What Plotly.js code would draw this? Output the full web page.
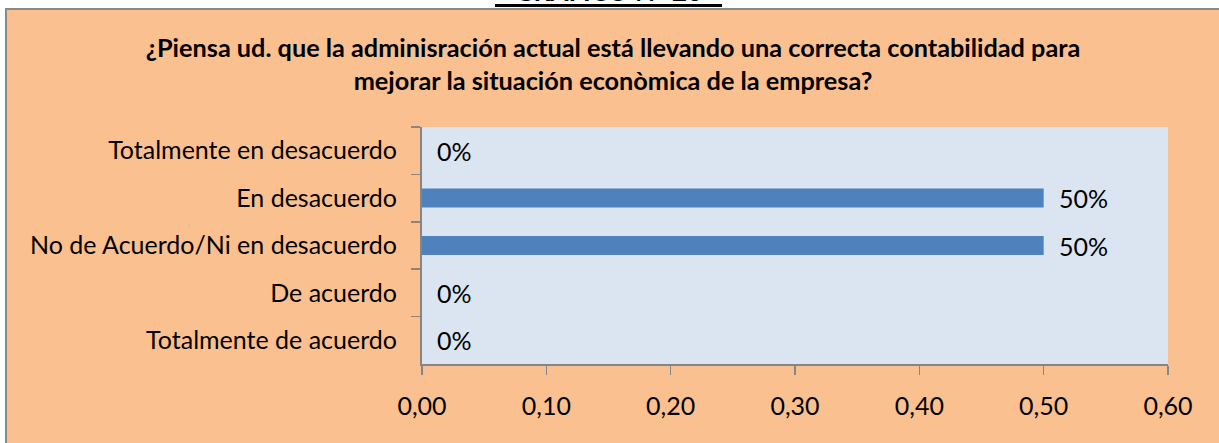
<!DOCTYPE html>
<html>
<head>
<meta charset="utf-8">
<script src="https://cdn.plot.ly/plotly-3.0.1.min.js"></script>
<style>
  html, body { margin: 0; padding: 0; background: #ffffff; width: 1219px; height: 443px; overflow: hidden; }
  #cap { position: absolute; left: 0; top: 0; width: 1219px; height: 8px; overflow: hidden; }
  #capText { position: absolute; left: 495px; top: -22px; width: 227px; height: 26px; line-height: 26px;
             font-family: Lato, sans-serif; font-weight: bold; font-size: 26px; text-align: center;
             color: #000; border-bottom: 3px solid #000; white-space: nowrap; }
  #chart { position: absolute; left: 5px; top: 8px; width: 1212px; height: 433px;
           border-left: 2px solid #898989; border-top: 2px solid #898989; }
</style>
</head>
<body>
<div id="cap"><div id="capText">GRÁFICO N° 20</div></div>
<div id="chart"></div>
<script>
// ---- data ----
const categories = [
  "Totalmente en desacuerdo",
  "En desacuerdo",
  "No de Acuerdo/Ni en desacuerdo",
  "De acuerdo",
  "Totalmente de acuerdo"
];
const values = [0, 0.5, 0.5, 0, 0];
const valueLabels = ["0%", "50%", "50%", "0%", "0%"];
const xTickVals = [0, 0.1, 0.2, 0.3, 0.4, 0.5, 0.6];
const titleText = "¿Piensa ud. que la adminisración actual está llevando una correcta contabilidad para<br>mejorar la situación econòmica de la empresa?";

// ---- font fitting (Calibri-like widths) ----
const cv = document.createElement('canvas').getContext('2d');
function fitSize(text, weight, family, target) {
  cv.font = weight + ' 100px ' + family;
  return 100 * target / cv.measureText(text).width;
}
const FAM = 'Lato';
const labelSize = fitSize("Totalmente en desacuerdo", 'normal', FAM, 289);
const titleSize = fitSize("¿Piensa ud. que la adminisración actual está llevando una correcta contabilidad para", 'bold', FAM, 935);

const ORANGE = '#FAC090';
const PLOTBG = '#DBE5F1';
const BAR = '#4F81BD';
const AXIS = '#868686';

const trace = {
  type: 'bar',
  orientation: 'h',
  y: categories,
  x: values,
  marker: { color: BAR, line: { width: 0 } },
  hoverinfo: 'skip'
};

const annotations = categories.map((c, i) => ({
  x: values[i], y: c, xref: 'x', yref: 'y',
  text: valueLabels[i], showarrow: false,
  xanchor: 'left', yanchor: 'middle', xshift: 13,
  font: { family: FAM, size: labelSize, color: '#000' }
}));

const layout = {
  width: 1212, height: 433, autosize: false,
  paper_bgcolor: ORANGE, plot_bgcolor: PLOTBG,
  margin: { l: 415, r: 51, t: 117, b: 79, pad: 0 },
  separators: ', ',
  showlegend: false,
  bargap: 0.6,
  title: {
    text: titleText,
    x: 0.5, xref: 'container', xanchor: 'center',
    y: 1 - 47 / 433, yref: 'container', yanchor: 'middle',
    font: { family: FAM, size: titleSize, color: '#000', weight: 'bold' }
  },
  xaxis: {
    range: [0, 0.6], tickvals: xTickVals, tickformat: '.2f',
    showgrid: false, zeroline: false,
    showline: true, linecolor: AXIS, linewidth: 2,
    ticks: 'outside', ticklen: 9, tickwidth: 1.5, tickcolor: AXIS,
    ticklabelstandoff: 10,
    tickfont: { family: FAM, size: labelSize, color: '#000' },
    fixedrange: true
  },
  yaxis: {
    type: 'category', autorange: 'reversed',
    showgrid: false, zeroline: false,
    showline: true, linecolor: AXIS, linewidth: 2,
    ticks: 'outside', ticklen: 9, tickwidth: 1.5, tickcolor: AXIS,
    tickson: 'boundaries',
    ticklabelstandoff: 18,
    tickfont: { family: FAM, size: labelSize, color: '#000' },
    fixedrange: true
  },
  annotations: annotations
};

Plotly.newPlot('chart', [trace], layout, { displayModeBar: false, staticPlot: true });
</script>
</body>
</html>
